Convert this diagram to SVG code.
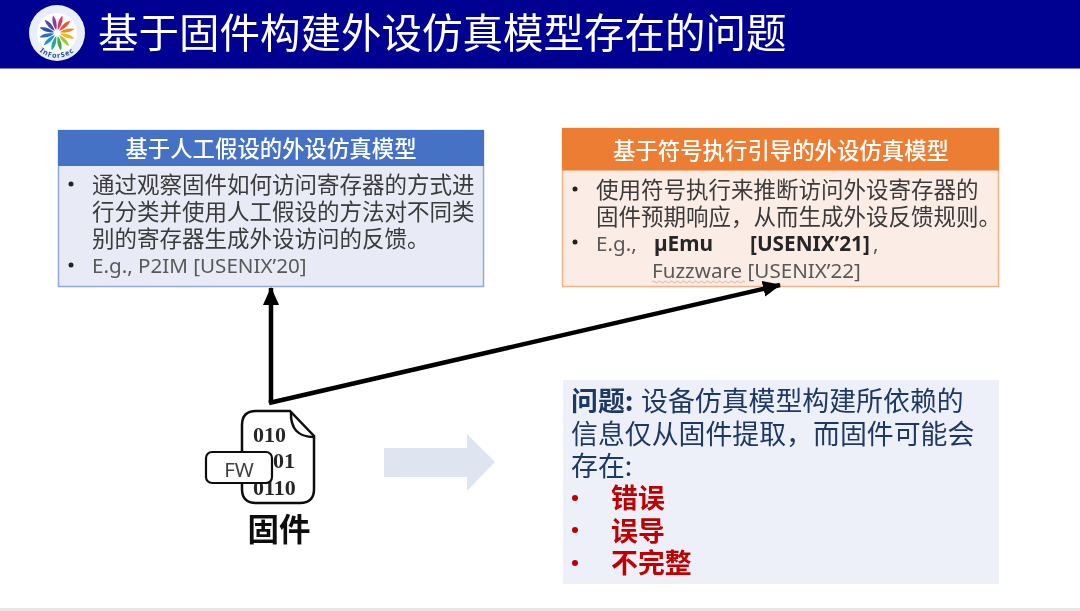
<svg xmlns="http://www.w3.org/2000/svg" width="1080" height="611" viewBox="0 0 1080 611">
<style>
text{font-family:"Noto Sans CJK SC","Noto Sans",sans-serif}
.lat{font-family:"Noto Sans","Noto Sans CJK SC",sans-serif}
.hd{font-size:22.4px;fill:#fff;text-anchor:middle;font-weight:500}
.bd{font-size:22.5px;fill:#3a3a3a}
.eg{font-size:20.600px;fill:#595959}
.bl{font-size:20.800px;fill:#262626}
.pb{font-size:26.9px;fill:#1f3864}
.rd{font-size:26.9px;fill:#c00000;font-weight:700}
.bin{font-family:"Liberation Serif",serif;font-weight:700;font-size:22px;fill:#262626}
</style>
<defs>
<filter id="soft" x="0" y="0" width="100%" height="100%"><feGaussianBlur stdDeviation="0.4"/></filter>
<marker id="ah" markerUnits="userSpaceOnUse" markerWidth="20" markerHeight="18" refX="17" refY="8" orient="auto"><path d="M0 0L18 8L0 16z" fill="#000"/></marker>
<path id="petal" d="M0-3C2.500-8 3-13 .8-18C-1.500-15-2.500-9 0-3z"/>
</defs>
<rect width="1080" height="611" fill="#fff"/>
<g filter="url(#soft)">
<g id="title-bar">
<rect width="1080" height="68.500" fill="#000091"/>
<g id="logo">
<circle cx="57" cy="33" r="28" fill="#e9eff8"/>
<circle cx="57" cy="33" r="20" fill="#fff"/>
<g transform="translate(57 33)">
<use href="#petal" fill="#8e3a9d" transform="rotate(-15)"/><use href="#petal" fill="#d43c6a" transform="rotate(15)"/><use href="#petal" fill="#e8542a" transform="rotate(45)"/><use href="#petal" fill="#f08a1c" transform="rotate(75)"/><use href="#petal" fill="#f5b71a" transform="rotate(105)"/><use href="#petal" fill="#a5c832" transform="rotate(135)"/><use href="#petal" fill="#3cae4a" transform="rotate(165)"/><use href="#petal" fill="#20a8a0" transform="rotate(195)"/><use href="#petal" fill="#1e90d0" transform="rotate(225)"/><use href="#petal" fill="#2a6fbe" transform="rotate(255)"/><use href="#petal" fill="#2a55a8" transform="rotate(285)"/><use href="#petal" fill="#4a4aa8" transform="rotate(315)"/>
</g>
<path id="lg" d="M34 44A26 26 0 0 0 80 44" fill="none"/>
<text class="lat" font-size="7" font-weight="700" fill="#2a4a90" letter-spacing="1"><textPath href="#lg" startOffset="9">InForSec</textPath></text>
</g>
<text x="98" y="48" font-size="40.500" fill="#fff">基于固件构建外设仿真模型存在的问题</text>
</g>
<g id="node-manual">
<rect x="58.500" y="130.500" width="425" height="156" fill="#e8ebf5" stroke="#8faadc" stroke-width="1.500"/>
<rect x="58" y="130" width="426" height="36" fill="#4472c4"/>
<text class="hd" x="271" y="157">基于人工假设的外设仿真模型</text>
<circle cx="71" cy="184" r="2.500" fill="#222"/>
<text class="bd"><tspan x="92" y="193">通过观察固件如何访问寄存器的方式进</tspan><tspan x="92" y="220">行分类并使用人工假设的方法对不同类</tspan><tspan x="92" y="247">别的寄存器生成外设访问的反馈。</tspan></text>
<circle cx="71" cy="265" r="2.500" fill="#222"/>
<text class="lat eg" x="92" y="273">E.g., P2IM [USENIX’20]</text>
</g>
<g id="node-symbolic">
<rect x="562.500" y="128.500" width="436" height="158" fill="#fbece6" stroke="#f4b183" stroke-width="1.500"/>
<rect x="562" y="128" width="437" height="42.500" fill="#ed7d31"/>
<text class="hd" x="781" y="159">基于符号执行引导的外设仿真模型</text>
<circle cx="575" cy="189" r="2.500" fill="#222"/>
<text class="bd"><tspan x="596" y="198">使用符号执行来推断访问外设寄存器的</tspan><tspan x="596" y="225">固件预期响应，从而生成外设反馈规则。</tspan></text>
<circle cx="575" cy="242" r="2.500" fill="#222"/>
<text class="lat eg" x="596" y="251">E.g.,</text>
<text class="lat bl" x="654" y="251" font-weight="700">µEmu</text>
<text class="lat bl" x="750" y="251" font-weight="700">[USENIX’21]</text>
<text class="lat eg" x="873" y="251">,</text>
<text class="lat eg" x="652" y="278">Fuzzware [USENIX’22]</text>
<path d="M652 282q1.500-2 3 0t3 0t3 0t3 0t3 0t3 0t3 0t3 0t3 0t3 0t3 0t3 0t3 0t3 0t3 0t3 0t3 0t3 0t3 0t3 0t3 0t3 0t3 0t3 0t3 0t3 0t3 0t3 0t3 0t3 0t3 0" fill="none" stroke="#f08a8a" stroke-width=".7"/>
</g>
<g id="connectors" fill="none" stroke="#000" stroke-width="4.500">
<path d="M271 403V288" marker-end="url(#ah)"/>
<path d="M269 403L780 285" marker-end="url(#ah)"/>
</g>
<g id="node-firmware">
<path d="M256 411H290L314 436V489Q314 503 300 503H256Q242 503 242 489V425Q242 411 256 411z" fill="#fff" stroke="#111" stroke-width="2.500"/>
<path d="M291 412Q290 437 314 437" fill="none" stroke="#111" stroke-width="2.500"/>
<text class="bin" x="253" y="442">010</text>
<text class="bin" x="262" y="468">001</text>
<text class="bin" x="253" y="495">0110</text>
<rect x="206" y="452" width="66" height="31" rx="6" fill="#fff" stroke="#111" stroke-width="2.200"/>
<text class="lat" x="239" y="477" font-size="20.500" fill="#404040" text-anchor="middle">FW</text>
<text x="279" y="541" font-size="31.500" font-weight="700" fill="#111" text-anchor="middle">固件</text>
</g>
<g id="big-arrow"><path d="M384 448H467V434L495 462L467 491V477H384z" fill="#dfe4f1"/></g>
<g id="node-problem">
<rect x="563" y="380" width="436" height="204" fill="#edf0f8"/>
<text class="pb"><tspan x="571" y="411" font-weight="700">问题:</tspan><tspan x="641" y="411">设备仿真模型构建所依赖的</tspan><tspan x="571" y="444">信息仅从固件提取，而固件可能会</tspan><tspan x="571" y="476">存在:</tspan></text>
<circle cx="575" cy="498" r="3" fill="#c00000"/>
<circle cx="575" cy="530" r="3" fill="#c00000"/>
<circle cx="575" cy="563" r="3" fill="#c00000"/>
<text class="rd"><tspan x="611" y="508">错误</tspan><tspan x="611" y="541">误导</tspan><tspan x="611" y="573">不完整</tspan></text>
</g>
<rect id="footer-line" y="608" width="1080" height="3" fill="#e6e6e6"/>
</g>
</svg>
